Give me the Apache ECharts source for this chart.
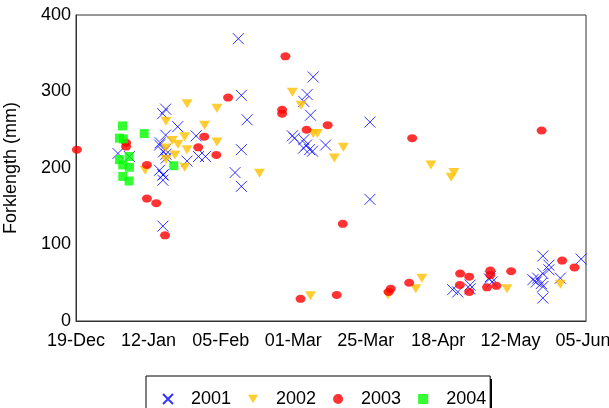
<!DOCTYPE html>
<html><head><meta charset="utf-8">
<script src="https://cdn.jsdelivr.net/npm/echarts@6/dist/echarts.min.js"></script>
<style>html,body{margin:0;padding:0;background:#fff}#c{width:609px;height:408px}</style>
</head><body><div id="c"></div>
<script>
// x = days after 19-Dec, y = forklength (mm)
const xTickLabels = ['19-Dec','12-Jan','05-Feb','01-Mar','25-Mar','18-Apr','12-May','05-Jun'];
const xTickStep = 24;
const yTicks = [0, 100, 200, 300, 400];

const s2001 = [[53.8,369],[54.8,295],[56.7,263],[54.8,224],[52.7,194],[54.8,176],
  [29.7,277],[28.7,271],[33.7,254],[29.7,243],[39.8,242],[27.7,230],[29,221],[13.9,219],[17.7,215],
  [29.8,218],[40.6,215],[42.9,215],[36.8,209],[27.7,197],[28.8,191],[28.8,184],[28.8,124],
  [27.9,233],[29.6,224],[29.9,213],[28.9,191],
  [78.6,319],[76.6,296],[75.5,287],[77.7,269],[97.4,260],[71.7,242],[72.4,239],[75.5,237],
  [76.4,230],[75.4,226],[77.4,224],[78.4,222],[82.7,230],[97.4,159],
  [124.8,41],[126.5,38],[130.6,47],[130.6,42],[137.3,58],[137.9,51],[137,55],
  [154.7,85],[156.7,73],[156.7,67],[154.7,62],[153,56],[151.4,54],[152.5,51],[154.2,49],[154.7,45],
  [154.7,30],[160.5,56],[167.4,81]];
const s2002 = [[36.8,284],[46.7,278],[29.8,261],[42.6,256],[36,241],[31.9,236],[33.8,231],[46.7,234],
  [36.8,224],[29.8,226],[32.8,217],[29.8,211],[36,201],[22.9,197],[60.8,193],
  [71.7,299],[74.6,282],[78.6,245],[80,245],[88.6,227],[85.6,213],[117.6,204],[125.2,194],[124.3,188],
  [77.7,33],[103.4,34],[112.6,42],[114.6,56],[142.8,42],[160.5,48]];
const s2003 = [[0.3,224],[16.6,233],[16.6,228],[23.5,204],[23.5,160],[26.6,154],[29.5,112],[50.4,292],
  [42.5,241],[40.5,227],[46.5,217],[69.4,346],[68.3,276],[68.3,271],[76.4,250],[83.4,256],[111.4,239],
  [88.4,127],[154.3,249],[74.4,29],[86.4,34],[103.6,38],[104.3,42],[110.4,50],[127.3,62],[130.3,58],
  [127.2,47],[130.3,38],[137.3,66],[137.3,60],[136.2,44],[139.3,46],[144.2,65],[161.1,79],[165.2,70]];
const s2004 = [[15.4,255],[14.4,239],[15.7,238],[22.6,245],[17.6,215],[14.4,211],[15.5,204],[17.7,201],
  [15.5,189],[17.6,183],[32.4,203]];

const FONT = 'Liberation Sans, Arial, sans-serif';
const X_PATH = 'path://M0,0L10,10M10,0L0,10';
const TRI_PATH = 'path://M0,0L12,0L6,10Z';
const chart = echarts.init(document.getElementById('c'), null, {renderer: 'canvas'});
chart.setOption({
  animation: false,
  backgroundColor: '#fff',
  grid: {left: 76, right: 23, top: 15, bottom: 87, show: true, borderColor: '#333', borderWidth: 1,
    containLabel: false, outerBoundsMode: 'none'},
  xAxis: {
    type: 'value', min: 0, max: 169, interval: xTickStep,
    axisLine: {show: true, lineStyle: {color: '#333', width: 1}},
    axisTick: {show: false}, splitLine: {show: false},
    axisLabel: {color: '#000', fontSize: 18, fontFamily: FONT, margin: 11,
      showMaxLabel: false, hideOverlap: false,
      formatter: v => (Math.abs(v % xTickStep) < 1e-6 ? (xTickLabels[Math.round(v / xTickStep)] || '') : '')}
  },
  yAxis: {
    type: 'value', min: yTicks[0], max: yTicks[yTicks.length - 1], interval: yTicks[1] - yTicks[0],
    name: 'Forklength (mm)', nameLocation: 'middle', nameGap: 56, nameRotate: 90,
    nameTextStyle: {color: '#000', fontSize: 18, fontFamily: FONT},
    axisLine: {show: true, lineStyle: {color: '#333', width: 1}},
    axisTick: {show: false}, splitLine: {show: false},
    axisLabel: {color: '#000', fontSize: 18, fontFamily: FONT, margin: 5}
  },
  legend: {
    left: 146, top: 376, orient: 'horizontal',
    padding: [14, 4, 14, 16], itemGap: 17, itemWidth: 10, itemHeight: 10,
    backgroundColor: '#fff', borderColor: '#000', borderWidth: 1,
    textStyle: {color: '#000', fontSize: 18, fontFamily: FONT, padding: [0, 0, 0, 13]},
    data: [
      {name: '2001', icon: X_PATH},
      {name: '2002', icon: TRI_PATH},
      {name: '2003', icon: 'circle'},
      {name: '2004', icon: 'rect'}
    ]
  },
  series: [
    {name: '2001', type: 'scatter', data: s2001,
      symbol: X_PATH, symbolSize: 11,
      itemStyle: {color: 'rgba(0,0,0,0)', borderColor: '#0000FF', borderWidth: 1}},
    {name: '2002', type: 'scatter', data: s2002,
      symbol: TRI_PATH, symbolSize: [11, 9],
      itemStyle: {color: '#FFC000'}},
    {name: '2003', type: 'scatter', data: s2003,
      symbol: 'circle', symbolSize: [10, 8],
      itemStyle: {color: '#FF0000'}},
    {name: '2004', type: 'scatter', data: s2004,
      symbol: 'rect', symbolSize: 9,
      itemStyle: {color: '#00FF00'}}
  ]
});
// drop-shadow edge on the legend box
chart.setOption({graphic: [{type: 'rect', z: 1, zlevel: 0, left: 489, top: 379,
  shape: {width: 3, height: 40}, style: {fill: '#000'}}]});
</script></body></html>
